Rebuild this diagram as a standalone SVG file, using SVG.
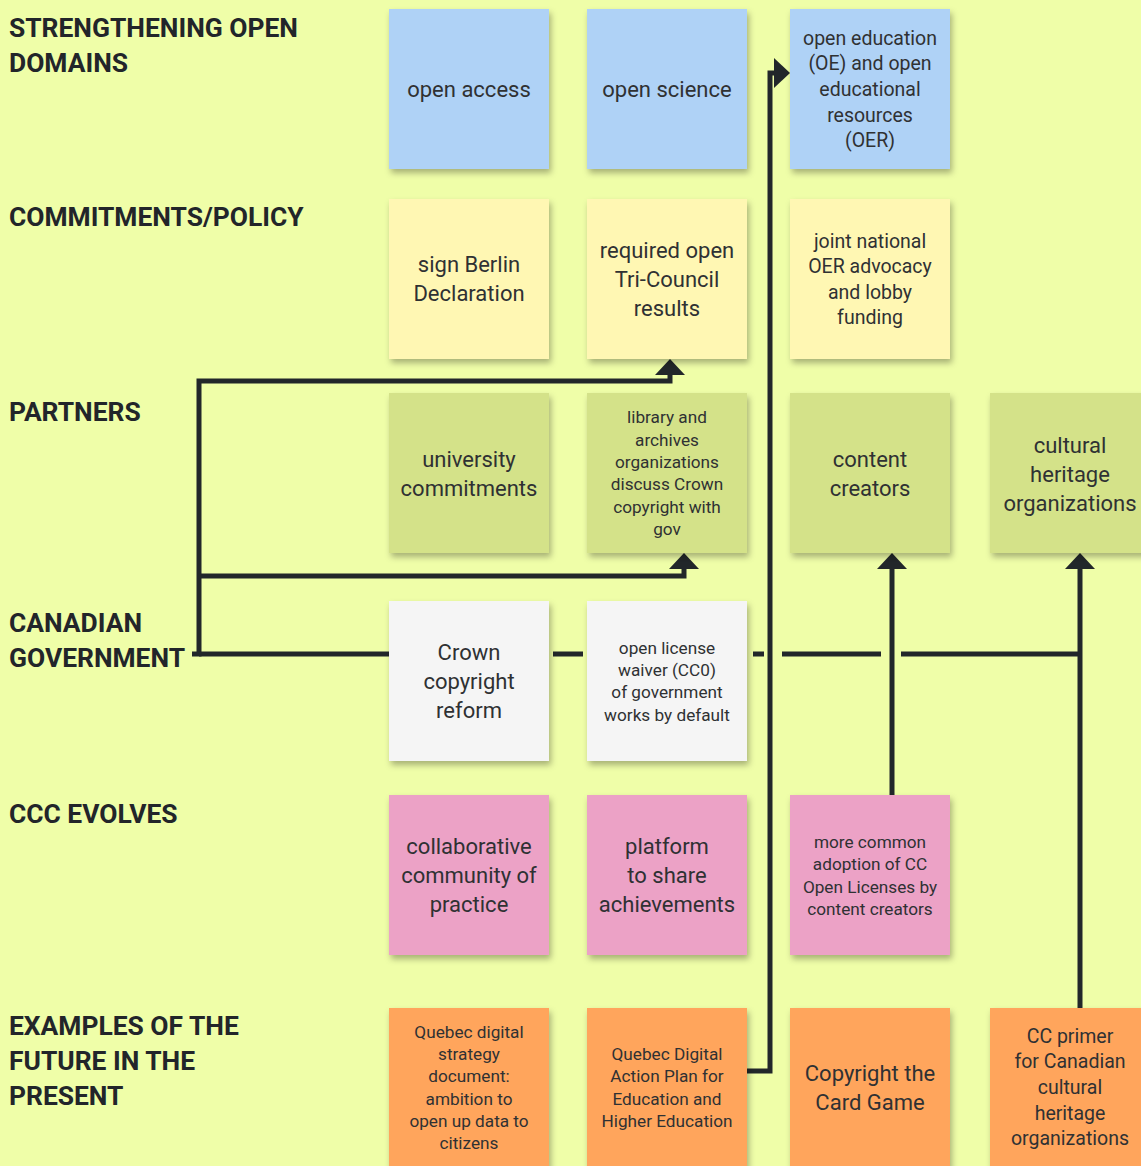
<svg xmlns="http://www.w3.org/2000/svg" width="1141" height="1166" viewBox="0 0 1141 1166">
<defs>
<filter id="sh" x="-10%" y="-10%" width="125%" height="125%">
<feDropShadow dx="2" dy="4" stdDeviation="3" flood-color="#000" flood-opacity="0.3"/>
</filter>
<marker id="ah" viewBox="0 0 16 30" markerWidth="16" markerHeight="30" refX="0" refY="15" orient="auto" markerUnits="userSpaceOnUse">
<path d="M0,0 L16,15 L0,30 z" fill="#22272a"/>
</marker>
</defs>
<style>
.h{font-family:Roboto,"Liberation Sans",sans-serif;font-weight:bold;font-size:26.4px;fill:#22252a}
.t{font-family:Roboto,"Liberation Sans",sans-serif;fill:#2f3133;text-anchor:middle}
.s20{font-size:22px}
.s18{font-size:19.5px}
.s16{font-size:17.2px}
.c{filter:url(#sh)}
.blue{fill:#afd2f6}
.yel{fill:#fff7b3}
.grn{fill:#d4e289}
.wht{fill:#f5f5f5}
.pnk{fill:#eca2c6}
.org{fill:#ffa55c}
.ln{fill:none;stroke:#22272a;stroke-width:5}
</style>
<rect width="1141" height="1166" fill="#effea8"/>
<g id="headings">
<text class="h" x="9" y="37">STRENGTHENING OPEN</text>
<text class="h" x="9" y="72">DOMAINS</text>
<text class="h" x="9" y="226">COMMITMENTS/POLICY</text>
<text class="h" x="9" y="421">PARTNERS</text>
<text class="h" x="9" y="632">CANADIAN</text>
<text class="h" x="9" y="667">GOVERNMENT</text>
<text class="h" x="9" y="823">CCC EVOLVES</text>
<text class="h" x="9" y="1035">EXAMPLES OF THE</text>
<text class="h" x="9" y="1070">FUTURE IN THE</text>
<text class="h" x="9" y="1105">PRESENT</text>
</g>
<g id="connectors">
<path class="ln" d="M747,1071 H770 V73 H774" marker-end="url(#ah)"/>
<path class="ln" d="M192,654 H199 V381 H670 V375" marker-end="url(#ah)"/>
<path class="ln" d="M199,576 H684 V569" marker-end="url(#ah)"/>
<path class="ln" d="M199,654 H389 M553,654 H583 M753,654 H764 M782,654 H881 M901,654 H1080"/>
<path class="ln" d="M892,795 V569" marker-end="url(#ah)"/>
<path class="ln" d="M1080,1008 V569" marker-end="url(#ah)"/>
</g>
<g id="n-open-access"><rect class="c blue" x="389" y="9" width="160" height="160"/><text class="t s20" x="469" y="97">open access</text></g>
<g id="n-open-science"><rect class="c blue" x="587" y="9" width="160" height="160"/><text class="t s20" x="667" y="97">open science</text></g>
<g id="n-open-education"><rect class="c blue" x="790" y="9" width="160" height="160"/><text class="t s18" x="870"><tspan x="870" y="45">open education</tspan><tspan x="870" y="70">(OE) and open</tspan><tspan x="870" y="96">educational</tspan><tspan x="870" y="122">resources</tspan><tspan x="870" y="147">(OER)</tspan></text></g>

<g id="n-berlin"><rect class="c yel" x="389" y="199" width="160" height="160"/><text class="t s20" x="469"><tspan x="469" y="272">sign Berlin</tspan><tspan x="469" y="301">Declaration</tspan></text></g>
<g id="n-tricouncil"><rect class="c yel" x="587" y="199" width="160" height="160"/><text class="t s20" x="667"><tspan x="667" y="258">required open</tspan><tspan x="667" y="287">Tri-Council</tspan><tspan x="667" y="316">results</tspan></text></g>
<g id="n-oer-advocacy"><rect class="c yel" x="790" y="199" width="160" height="160"/><text class="t s18" x="870"><tspan x="870" y="248">joint national</tspan><tspan x="870" y="273">OER advocacy</tspan><tspan x="870" y="299">and lobby</tspan><tspan x="870" y="324">funding</tspan></text></g>

<g id="n-university"><rect class="c grn" x="389" y="393" width="160" height="160"/><text class="t s20" x="469"><tspan x="469" y="467">university</tspan><tspan x="469" y="496">commitments</tspan></text></g>
<g id="n-library"><rect class="c grn" x="587" y="393" width="160" height="160"/><text class="t s16" x="667"><tspan x="667" y="423">library and</tspan><tspan x="667" y="446">archives</tspan><tspan x="667" y="468">organizations</tspan><tspan x="667" y="490">discuss Crown</tspan><tspan x="667" y="513">copyright with</tspan><tspan x="667" y="535">gov</tspan></text></g>
<g id="n-content-creators"><rect class="c grn" x="790" y="393" width="160" height="160"/><text class="t s20" x="870"><tspan x="870" y="467">content</tspan><tspan x="870" y="496">creators</tspan></text></g>
<g id="n-cultural-heritage"><rect class="c grn" x="990" y="393" width="160" height="160"/><text class="t s20" x="1070"><tspan x="1070" y="453">cultural</tspan><tspan x="1070" y="482">heritage</tspan><tspan x="1070" y="511">organizations</tspan></text></g>

<g id="n-crown"><rect class="c wht" x="389" y="601" width="160" height="160"/><text class="t s20" x="469"><tspan x="469" y="660">Crown</tspan><tspan x="469" y="689">copyright</tspan><tspan x="469" y="718">reform</tspan></text></g>
<g id="n-cc0"><rect class="c wht" x="587" y="601" width="160" height="160"/><text class="t s16" x="667"><tspan x="667" y="654">open license</tspan><tspan x="667" y="676">waiver (CC0)</tspan><tspan x="667" y="698">of government</tspan><tspan x="667" y="721">works by default</tspan></text></g>

<g id="n-community"><rect class="c pnk" x="389" y="795" width="160" height="160"/><text class="t s20" x="469"><tspan x="469" y="854">collaborative</tspan><tspan x="469" y="883">community of</tspan><tspan x="469" y="912">practice</tspan></text></g>
<g id="n-platform"><rect class="c pnk" x="587" y="795" width="160" height="160"/><text class="t s20" x="667"><tspan x="667" y="854">platform</tspan><tspan x="667" y="883">to share</tspan><tspan x="667" y="912">achievements</tspan></text></g>
<g id="n-adoption"><rect class="c pnk" x="790" y="795" width="160" height="160"/><text class="t s16" x="870"><tspan x="870" y="848">more common</tspan><tspan x="870" y="870">adoption of CC</tspan><tspan x="870" y="893">Open Licenses by</tspan><tspan x="870" y="915">content creators</tspan></text></g>

<g id="n-quebec-strategy"><rect class="c org" x="389" y="1008" width="160" height="160"/><text class="t s16" x="469"><tspan x="469" y="1038">Quebec digital</tspan><tspan x="469" y="1060">strategy</tspan><tspan x="469" y="1082">document:</tspan><tspan x="469" y="1105">ambition to</tspan><tspan x="469" y="1127">open up data to</tspan><tspan x="469" y="1149">citizens</tspan></text></g>
<g id="n-quebec-action"><rect class="c org" x="587" y="1008" width="160" height="160"/><text class="t s16" x="667"><tspan x="667" y="1060">Quebec Digital</tspan><tspan x="667" y="1082">Action Plan for</tspan><tspan x="667" y="1105">Education and</tspan><tspan x="667" y="1127">Higher Education</tspan></text></g>
<g id="n-card-game"><rect class="c org" x="790" y="1008" width="160" height="160"/><text class="t s20" x="870"><tspan x="870" y="1081">Copyright the</tspan><tspan x="870" y="1110">Card Game</tspan></text></g>
<g id="n-cc-primer"><rect class="c org" x="990" y="1008" width="160" height="160"/><text class="t s18" x="1070"><tspan x="1070" y="1043">CC primer</tspan><tspan x="1070" y="1068">for Canadian</tspan><tspan x="1070" y="1094">cultural</tspan><tspan x="1070" y="1120">heritage</tspan><tspan x="1070" y="1145">organizations</tspan></text></g>
</svg>
